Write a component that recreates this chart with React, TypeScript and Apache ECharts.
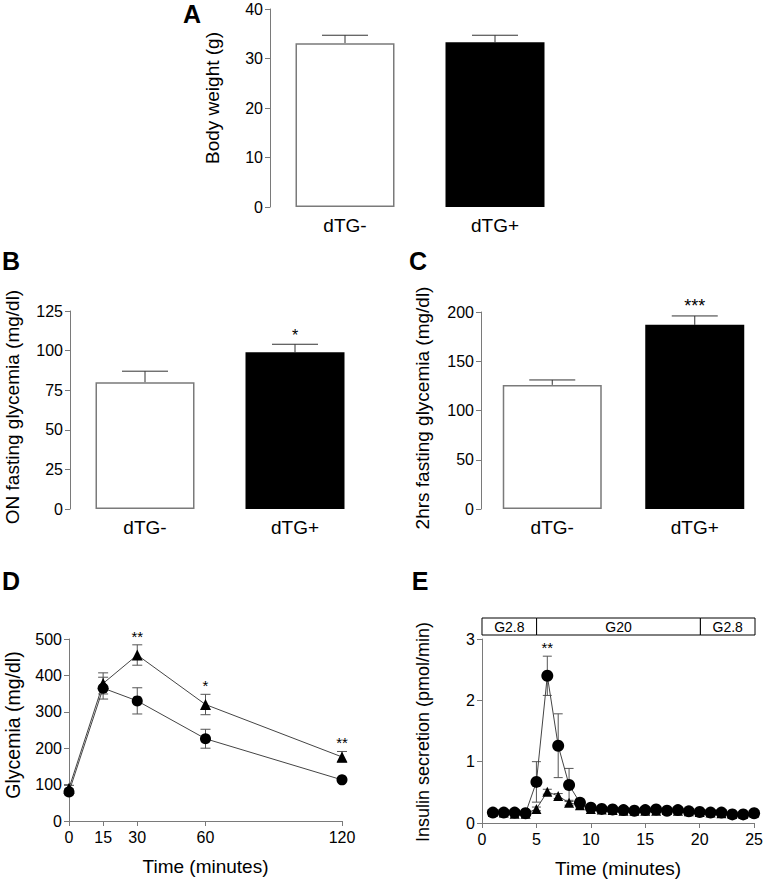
import React, { useEffect, useRef } from "react";
import * as echarts from "echarts";

// ---------- data ----------
const barCategories = ["dTG-", "dTG+"];

const bodyWeight = [33.1, 33.3];
const bodyWeightErr = [1.6, 1.4];
const bodyWeightStars = ["", ""];

const onFasting = [80, 99];
const onFastingErr = [7, 5];
const onFastingStars = ["", "*"];

const twoHrFasting = [126, 187];
const twoHrFastingErr = [5, 9];
const twoHrFastingStars = ["", "***"];

const ipgttTimes = [0, 15, 30, 60, 120];
const ipgttCircle = [80, 365, 330, 226, 113];
const ipgttCircleErr = [8, 30, 36, 26, 5];
const ipgttTriangle = [90, 378, 456, 320, 176];
const ipgttTriangleErr = [8, 29, 28, 28, 15];
const ipgttStars = ["", "", "**", "*", "**"];

const perifTimes = [1, 2, 3, 4, 5, 6, 7, 8, 9, 10, 11, 12, 13, 14, 15, 16, 17, 18, 19, 20, 21, 22, 23, 24, 25];
const perifCircle = [0.17, 0.17, 0.17, 0.16, 0.67, 2.4, 1.26, 0.62, 0.33, 0.25, 0.23, 0.22, 0.21, 0.2, 0.21, 0.22, 0.2, 0.21, 0.19, 0.18, 0.17, 0.17, 0.14, 0.14, 0.16];
const perifCircleErr = [0.02, 0.02, 0.02, 0.02, 0.33, 0.32, 0.52, 0.27, 0.06, 0.03, 0.02, 0.02, 0.02, 0.02, 0.02, 0.03, 0.02, 0.02, 0.02, 0.02, 0.02, 0.02, 0.02, 0.02, 0.02];
const perifTriangle = [0.18, 0.17, 0.15, 0.15, 0.23, 0.51, 0.44, 0.33, 0.29, 0.23, 0.22, 0.21, 0.2, 0.2, 0.2, 0.2, 0.21, 0.2, 0.19, 0.18, 0.17, 0.16, 0.15, 0.15, 0.17];
const perifTriangleErr = [0.02, 0.02, 0.02, 0.02, 0.03, 0.04, 0.04, 0.04, 0.04, 0.03, 0.02, 0.02, 0.02, 0.02, 0.02, 0.02, 0.02, 0.02, 0.02, 0.02, 0.02, 0.02, 0.02, 0.02, 0.02];
const perifStars = ["", "", "", "", "", "**", "", "", "", "", "", "", "", "", "", "", "", "", "", "", "", "", "", "", ""];

const perifPhases = [
  { start: 0, end: 5, label: "G2.8" },
  { start: 5, end: 20, label: "G20" },
  { start: 20, end: 25, label: "G2.8" },
];

// ---------- styling ----------
const FONT = "'Liberation Sans', Arial, Helvetica, sans-serif";
const AXIS_GREY = "#7a7a7a";

function errorBarSeries(idx: number, xs: number[], means: number[], errs: number[], opts: { cap: number; upOnly: boolean; color: string }) {
  return {
    type: "custom",
    xAxisIndex: idx,
    yAxisIndex: idx,
    z: 1,
    silent: true,
    data: xs.map((x, i) => [x, opts.upOnly ? means[i] : means[i] - errs[i], means[i] + errs[i]]),
    renderItem: (params: any, api: any) => {
      const x = api.value(0);
      const lo = api.coord([x, api.value(1)]);
      const hi = api.coord([x, api.value(2)]);
      const hw = opts.cap / 2;
      const style = { stroke: opts.color, lineWidth: 1 };
      const children: any[] = [
        { type: "line", shape: { x1: hi[0], y1: hi[1], x2: lo[0], y2: lo[1] }, style },
        { type: "line", shape: { x1: hi[0] - hw, y1: hi[1], x2: hi[0] + hw, y2: hi[1] }, style },
      ];
      if (!opts.upOnly) {
        children.push({ type: "line", shape: { x1: lo[0] - hw, y1: lo[1], x2: lo[0] + hw, y2: lo[1] }, style });
      }
      return { type: "group", children };
    },
  };
}

function starSeries(idx: number, xs: number[], tops: number[], stars: string[], size: number) {
  return {
    type: "custom",
    xAxisIndex: idx,
    yAxisIndex: idx,
    z: 5,
    silent: true,
    data: xs.map((x, i) => [x, tops[i]]),
    renderItem: (params: any, api: any) => {
      const s = stars[params.dataIndex];
      if (!s) return null;
      const p = api.coord([api.value(0), api.value(1)]);
      return {
        type: "text",
        x: p[0],
        y: p[1] - 1,
        style: { text: s, font: `${size}px ${FONT}`, fill: "#000", textAlign: "center", textVerticalAlign: "bottom" },
      };
    },
  };
}

function barPanel(idx: number, values: number[], errs: number[], stars: string[], starSize: number) {
  const xs = values.map((_, i) => i);
  return [
    {
      type: "bar",
      xAxisIndex: idx,
      yAxisIndex: idx,
      barWidth: 99,
      z: 2,
      silent: true,
      data: values.map((v, i) => ({
        value: v,
        itemStyle: i === 0 ? { color: "#ffffff", borderColor: AXIS_GREY, borderWidth: 1.5 } : { color: "#000000" },
      })),
    },
    errorBarSeries(idx, xs, values, errs, { cap: 46, upOnly: true, color: "#333" }),
    starSeries(idx, xs, values.map((v, i) => v + errs[i]), stars, starSize),
  ];
}

function valueYAxis(idx: number, max: number, interval: number) {
  return {
    type: "value",
    gridIndex: idx,
    min: 0,
    max,
    interval,
    axisLine: { show: true, lineStyle: { color: AXIS_GREY, width: 1 } },
    axisTick: { show: true, length: 5, lineStyle: { color: AXIS_GREY, width: 1 } },
    axisLabel: { fontSize: 16, color: "#000", fontFamily: FONT, margin: 7 },
    splitLine: { show: false },
  };
}

function categoryXAxis(idx: number) {
  return {
    type: "category",
    gridIndex: idx,
    data: barCategories,
    axisLine: { show: false },
    axisTick: { show: false },
    axisLabel: { fontSize: 19, color: "#000", fontFamily: FONT, margin: 9 },
  };
}

function valueXAxis(idx: number, max: number, ticks: number[]) {
  return {
    type: "value",
    gridIndex: idx,
    min: 0,
    max,
    axisLine: { show: true, lineStyle: { color: AXIS_GREY, width: 1 } },
    axisTick: { show: true, length: 5, customValues: ticks, lineStyle: { color: AXIS_GREY, width: 1 } },
    axisLabel: { fontSize: 16, color: "#000", fontFamily: FONT, margin: 8, customValues: ticks },
    splitLine: { show: false },
    name: "Time (minutes)",
    nameLocation: "middle",
    nameGap: 36,
    nameTextStyle: { fontSize: 19, color: "#000", fontFamily: FONT },
  };
}

function lineSeries(idx: number, xs: number[], ys: number[], symbol: string, size: number, z: number) {
  return {
    type: "line",
    xAxisIndex: idx,
    yAxisIndex: idx,
    z,
    silent: true,
    symbol,
    symbolSize: size,
    showAllSymbol: true,
    itemStyle: { color: "#000" },
    lineStyle: { color: "#444", width: 1 },
    data: xs.map((x, i) => [x, ys[i]]),
  };
}

function rotatedTitle(text: string, x: number, y: number, size: number) {
  return {
    type: "text",
    x,
    y,
    rotation: Math.PI / 2,
    style: { text, font: `${size}px ${FONT}`, fill: "#000", textAlign: "center", textVerticalAlign: "middle" },
  };
}

function panelLetter(text: string, x: number, y: number) {
  return {
    type: "text",
    x,
    y,
    style: { text, font: `bold 25px ${FONT}`, fill: "#000", textAlign: "center", textVerticalAlign: "middle" },
  };
}

export default function App() {
  const ref = useRef<HTMLDivElement>(null);

  useEffect(() => {
    if (!ref.current) return;
    const chart = echarts.init(ref.current, undefined, { renderer: "svg" });

    const ipgttTopTri = ipgttTriangle.map((v, i) => v + ipgttTriangleErr[i]);
    const perifTopCircle = perifCircle.map((v, i) => v + perifCircleErr[i]);

    const option: any = {
      animation: false,
      backgroundColor: "#ffffff",
      textStyle: { fontFamily: FONT },
      grid: [
        { left: 270, top: 9, width: 300, height: 198 },
        { left: 70, top: 311, width: 300, height: 198 },
        { left: 481, top: 312, width: 296, height: 197 },
        { left: 69, top: 639, width: 273, height: 182 },
        { left: 482, top: 639, width: 273, height: 184 },
        { left: 482, top: 618, width: 273, height: 17 },
      ],
      xAxis: [
        categoryXAxis(0),
        categoryXAxis(1),
        categoryXAxis(2),
        valueXAxis(3, 120, ipgttTimes),
        { ...valueXAxis(4, 25, [0, 5, 10, 15, 20, 25]), interval: 5 },
        { type: "value", gridIndex: 5, min: 0, max: 25, show: false },
      ],
      yAxis: [
        valueYAxis(0, 40, 10),
        valueYAxis(1, 125, 25),
        valueYAxis(2, 200, 50),
        valueYAxis(3, 500, 100),
        valueYAxis(4, 3, 1),
        { type: "value", gridIndex: 5, min: 0, max: 1, show: false },
      ],
      series: [
        ...barPanel(0, bodyWeight, bodyWeightErr, bodyWeightStars, 16),
        ...barPanel(1, onFasting, onFastingErr, onFastingStars, 16),
        ...barPanel(2, twoHrFasting, twoHrFastingErr, twoHrFastingStars, 18),
        // D
        errorBarSeries(3, ipgttTimes, ipgttCircle, ipgttCircleErr, { cap: 10, upOnly: false, color: "#555" }),
        errorBarSeries(3, ipgttTimes, ipgttTriangle, ipgttTriangleErr, { cap: 10, upOnly: false, color: "#555" }),
        lineSeries(3, ipgttTimes, ipgttCircle, "circle", 11, 3),
        lineSeries(3, ipgttTimes, ipgttTriangle, "triangle", 11, 3),
        starSeries(3, ipgttTimes, ipgttTopTri, ipgttStars, 15),
        // E
        errorBarSeries(4, perifTimes, perifTriangle, perifTriangleErr, { cap: 9, upOnly: false, color: "#555" }),
        errorBarSeries(4, perifTimes, perifCircle, perifCircleErr, { cap: 9, upOnly: false, color: "#555" }),
        lineSeries(4, perifTimes, perifTriangle, "triangle", 10, 3),
        lineSeries(4, perifTimes, perifCircle, "circle", 12, 4),
        starSeries(4, perifTimes, perifTopCircle, perifStars, 15),
        // E phase box
        {
          type: "custom",
          xAxisIndex: 5,
          yAxisIndex: 5,
          silent: true,
          data: perifPhases.map((p) => [p.start, p.end]),
          renderItem: (params: any, api: any) => {
            const a = api.coord([api.value(0), 1]);
            const b = api.coord([api.value(1), 0]);
            return {
              type: "group",
              children: [
                {
                  type: "rect",
                  shape: { x: a[0], y: a[1], width: b[0] - a[0], height: b[1] - a[1] },
                  style: { fill: "#fff", stroke: "#000", lineWidth: 1 },
                },
                {
                  type: "text",
                  x: (a[0] + b[0]) / 2,
                  y: (a[1] + b[1]) / 2,
                  style: {
                    text: perifPhases[params.dataIndex].label,
                    font: `14px ${FONT}`,
                    fill: "#000",
                    textAlign: "center",
                    textVerticalAlign: "middle",
                  },
                },
              ],
            };
          },
        },
      ],
      graphic: [
        panelLetter("A", 192, 14),
        panelLetter("B", 11, 261),
        panelLetter("C", 418, 261),
        panelLetter("D", 11, 581),
        panelLetter("E", 420, 581),
        rotatedTitle("Body weight (g)", 212, 98, 19),
        rotatedTitle("ON fasting glycemia (mg/dl)", 12, 407, 19),
        rotatedTitle("2hrs fasting glycemia (mg/dl)", 422, 408, 19),
        rotatedTitle("Glycemia (mg/dl)", 12.5, 725, 19.5),
        rotatedTitle("Insulin secretion (pmol/min)", 422.5, 732, 18),
      ],
    };

    chart.setOption(option);
    return () => chart.dispose();
  }, []);

  return (
    <div
      ref={ref}
      style={{ position: "absolute", left: 0, top: 0, width: 766, height: 885, background: "#fff" }}
    />
  );
}
